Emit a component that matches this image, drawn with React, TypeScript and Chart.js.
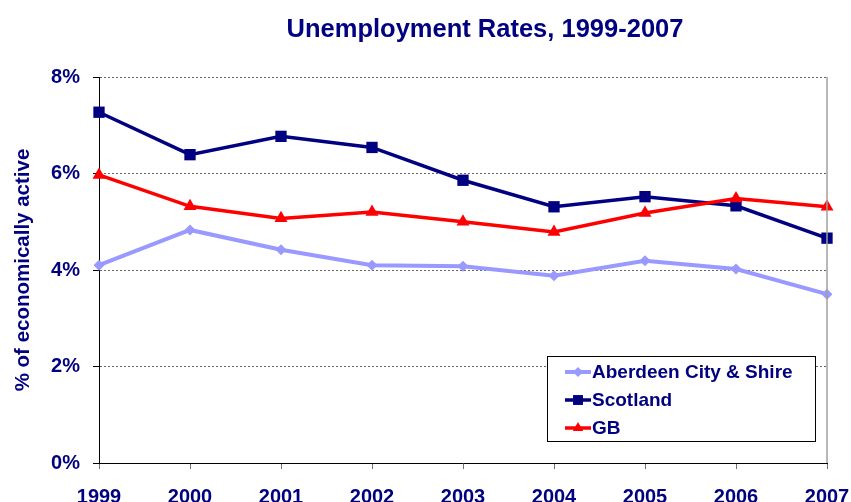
import React, { useEffect, useRef } from "react";
import { Chart, registerables } from "chart.js";

Chart.register(...registerables);

const years = ["1999", "2000", "2001", "2002", "2003", "2004", "2005", "2006", "2007"];
const aberdeen = [4.10, 4.83, 4.42, 4.10, 4.08, 3.88, 4.19, 4.02, 3.50];
const scotland = [7.27, 6.39, 6.77, 6.54, 5.86, 5.31, 5.52, 5.33, 4.66];
const gb = [5.97, 5.32, 5.07, 5.20, 5.00, 4.79, 5.18, 5.48, 5.31];
const yTicks = [0, 2, 4, 6, 8];

const titleText = "Unemployment Rates, 1999-2007";
const yTitle = "% of economically active";
const NAVY = "#000080";
const FONT = "'Liberation Sans', Arial, sans-serif";

function drawMarker(ctx: CanvasRenderingContext2D, style: string, x: number, y: number, r: number, color: string) {
  ctx.save();
  ctx.fillStyle = color;
  ctx.beginPath();
  if (style === "rect") {
    const s = r * Math.SQRT1_2;
    ctx.rect(x - s, y - s, 2 * s, 2 * s);
  } else if (style === "rectRot") {
    ctx.moveTo(x, y - r);
    ctx.lineTo(x + r, y);
    ctx.lineTo(x, y + r);
    ctx.lineTo(x - r, y);
    ctx.closePath();
  } else if (style === "triangle") {
    ctx.moveTo(x, y - r);
    ctx.lineTo(x + r * 0.866, y + r * 0.5);
    ctx.lineTo(x - r * 0.866, y + r * 0.5);
    ctx.closePath();
  }
  ctx.fill();
  ctx.restore();
}

const decorPlugin = {
  id: "decor",
  afterDraw(chart: any) {
    const { ctx, chartArea } = chart;
    ctx.save();
    // right plot border
    ctx.strokeStyle = "#a0a0a0";
    ctx.lineWidth = 1.5;
    ctx.beginPath();
    ctx.moveTo(chartArea.right, chartArea.top);
    ctx.lineTo(chartArea.right, chartArea.bottom);
    ctx.stroke();

    // title
    ctx.fillStyle = NAVY;
    ctx.font = `bold 25.5px ${FONT}`;
    ctx.textAlign = "center";
    ctx.textBaseline = "middle";
    ctx.fillText(titleText, 485, 30);

    // legend
    const bx = chartArea.right - 280;
    const by = chartArea.bottom - 107;
    const bw = 268;
    const bh = 85;
    ctx.fillStyle = "#ffffff";
    ctx.fillRect(bx, by, bw, bh);
    ctx.strokeStyle = "#000000";
    ctx.lineWidth = 1;
    ctx.strokeRect(bx + 0.5, by + 0.5, bw, bh);
    ctx.font = `bold 19px ${FONT}`;
    ctx.textAlign = "left";
    ctx.textBaseline = "middle";
    chart.data.datasets.forEach((ds: any, i: number) => {
      const y = by + 16 + i * 28;
      ctx.strokeStyle = ds.borderColor;
      ctx.lineWidth = ds.borderWidth;
      ctx.beginPath();
      ctx.moveTo(bx + 18, y);
      ctx.lineTo(bx + 44, y);
      ctx.stroke();
      drawMarker(ctx, ds.pointStyle, bx + 31, y, ds.legendRadius, ds.borderColor);
      ctx.fillStyle = NAVY;
      ctx.fillText(ds.label, bx + 45, y + 1);
    });
    ctx.restore();
  },
};

export default function App() {
  const ref = useRef<HTMLCanvasElement>(null);
  useEffect(() => {
    if (!ref.current) return;
    const chart = new Chart(ref.current, {
      type: "line",
      data: {
        labels: years,
        datasets: [
          {
            label: "Aberdeen City & Shire",
            data: aberdeen,
            borderColor: "#9999ff",
            backgroundColor: "#9999ff",
            borderWidth: 4,
            pointStyle: "rectRot",
            pointRadius: 5.5,
            pointBorderWidth: 0,
            order: 3,
            legendRadius: 5,
          } as any,
          {
            label: "Scotland",
            data: scotland,
            borderColor: NAVY,
            backgroundColor: NAVY,
            borderWidth: 3.5,
            pointStyle: "rect",
            pointRadius: 8,
            pointBorderWidth: 0,
            order: 2,
            legendRadius: 7,
          } as any,
          {
            label: "GB",
            data: gb,
            borderColor: "#ff0000",
            backgroundColor: "#ff0000",
            borderWidth: 3.5,
            pointStyle: "triangle",
            pointRadius: 7.5,
            pointBorderWidth: 0,
            order: 1,
            legendRadius: 6,
          } as any,
        ],
      },
      options: {
        responsive: false,
        animation: false,
        events: [],
        layout: { padding: { top: 77, right: 24, left: 0, bottom: 0 } },
        plugins: {
          legend: { display: false },
          title: { display: false },
          tooltip: { enabled: false },
        },
        scales: {
          x: {
            type: "category",
            offset: false,
            afterFit: (s: any) => {
              s.height = 39;
              s.paddingLeft = 0;
              s.paddingRight = 0;
            },
            grid: {
              drawOnChartArea: false,
              drawTicks: true,
              tickLength: 6,
              tickColor: "#707070",
            },
            border: { display: true, color: "#000000", width: 1 },
            ticks: {
              color: NAVY,
              font: { family: FONT, size: 20, weight: "bold" },
              padding: 16,
              maxRotation: 0,
              autoSkip: false,
            },
          },
          y: {
            min: 0,
            max: 8,
            afterFit: (s: any) => {
              s.width = 99;
              s.paddingTop = 0;
              s.paddingBottom = 0;
            },
            afterBuildTicks: (s: any) => { s.ticks = yTicks.map((v) => ({ value: v })); },
            grid: {
              color: (c: any) => (c.tick && c.tick.value === 0 ? "rgba(0,0,0,0)" : "#666666"),
              lineWidth: 1,
              drawTicks: true,
              tickLength: 6,
              tickColor: "#000000",
            },
            border: { display: true, color: "#000000", width: 1, dash: [2, 2] },
            ticks: {
              color: NAVY,
              font: { family: FONT, size: 20, weight: "bold" },
              padding: 13,
              callback: (v: any) => `${v}%`,
            },
            title: {
              display: true,
              text: yTitle,
              color: NAVY,
              font: { family: FONT, size: 20.5, weight: "bold" },
              padding: { top: 11, bottom: 0 },
            },
          },
        },
      } as any,
      plugins: [decorPlugin],
    });
    return () => chart.destroy();
  }, []);
  return (
    <div style={{ position: "fixed", left: 0, top: 0, width: 851, height: 502, background: "#fff" }}>
      <canvas ref={ref} width={851} height={502} style={{ display: "block", width: 851, height: 502 }} />
    </div>
  );
}
